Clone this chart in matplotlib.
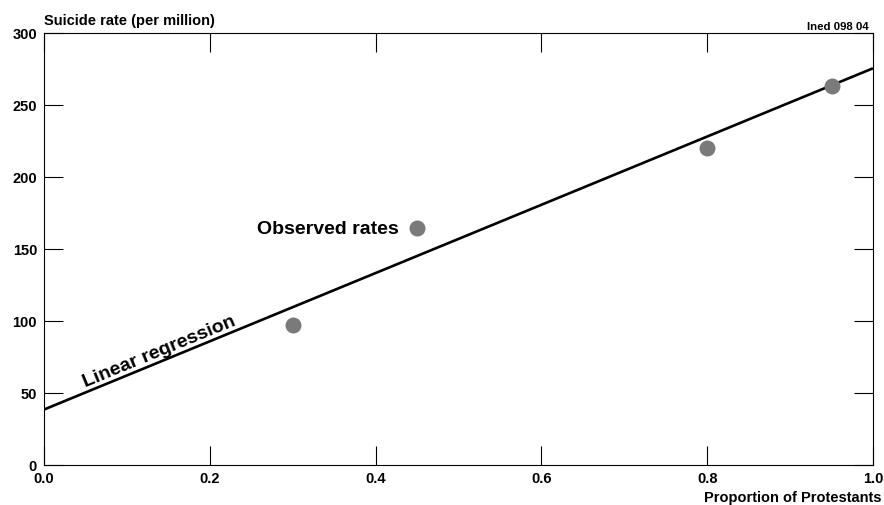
import numpy as np
import matplotlib.pyplot as plt

plt.rcParams['font.family'] = ['Liberation Sans', 'DejaVu Sans']

# observed suicide rates by share of Protestants
protestants = [0.30, 0.45, 0.80, 0.95]
suicide_rate = [97.5, 164.5, 220, 263.5]

# fitted line (intercept, slope)
intercept = 38.5
slope = 237.0

fig = plt.figure(figsize=(8.84, 5.06), dpi=100)
ax = fig.add_axes([44 / 884, 40 / 506, 829 / 884, 432 / 506])

xs = np.array([0.0, 1.0])
ax.plot(xs, intercept + slope * xs, color='black', lw=1.9, solid_capstyle='butt', zorder=2)
ax.plot(protestants, suicide_rate, 'o', color='#7a7a7a', ms=11.5, mec='none', zorder=3)

ax.set_xlim(0, 1)
ax.set_ylim(0, 300)
ax.set_xticks(np.arange(0, 1.01, 0.2))
ax.set_xticklabels([f"{v:.1f}" for v in np.arange(0, 1.01, 0.2)])
ax.set_yticks(range(0, 301, 50))

ax.tick_params(direction='in', length=13.5, width=0.8, top=True, right=True,
               labelsize=10.5, colors='black')
ax.tick_params(axis='x', pad=4)
ax.tick_params(axis='y', pad=5)
for lbl in ax.get_xticklabels() + ax.get_yticklabels():
    lbl.set_fontweight('bold')
for sp in ax.spines.values():
    sp.set_linewidth(0.8)

# labels on the plot
ax.text(0.428, 164.5, "Observed rates", fontsize=14, fontweight='bold',
        ha='right', va='center')

# rotate the regression label to follow the line on screen
p0 = ax.transData.transform((0, intercept))
p1 = ax.transData.transform((1, intercept + slope))
angle = np.degrees(np.arctan2(p1[1] - p0[1], p1[0] - p0[0]))
xl = 0.143
ax.text(xl, intercept + slope * xl + 1.5, "Linear regression", fontsize=14,
        fontweight='bold', rotation=angle, rotation_mode='anchor',
        ha='center', va='bottom')

ax.text(0, 1.021, "Suicide rate (per million)", transform=ax.transAxes,
        fontsize=10.5, fontweight='bold', ha='left', va='baseline')
ax.text(0.995, 1.009, "Ined 098 04", transform=ax.transAxes,
        fontsize=8.2, fontweight='bold', ha='right', va='baseline')
fig.text(882 / 884, 4 / 506, "Proportion of Protestants",
         fontsize=10.5, fontweight='bold', ha='right', va='baseline')

fig.savefig("out.png", dpi=100)
